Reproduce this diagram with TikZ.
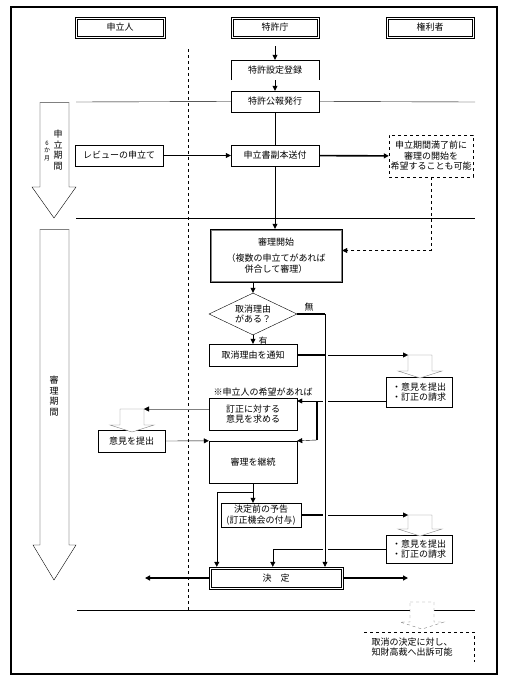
\documentclass[tikz,border=0pt]{standalone}
\usepackage{fontspec}
\setmainfont{Noto Sans CJK JP}
\usetikzlibrary{arrows.meta,shapes.geometric}
\tikzset{pics/downblk/.style={code={
	\draw[pic actions] (0,0) -- (24,0) -- (24,#1) -- (34,#1) -- (12,#1+7) -- (-10,#1) -- (0,#1) -- cycle;}}}
\begin{document}
\begin{tikzpicture}[x=1pt,y=-1pt,>={Triangle[length=5pt,width=5pt]},
	every node/.style={font=\fontsize{9}{10.5}\selectfont,inner sep=0pt,align=center},
	box/.style={draw,minimum width=88pt,minimum height=21pt},
	hopebox/.style={draw,dashed,minimum width=84pt,minimum height=42pt},
	thk/.style={line width=1.6pt},
	bridge/.style={preaction={draw=white,line width=5pt,-,shorten <=4pt,shorten >=4pt}}]
	\useasboundingbox (0,0) rectangle (508,691);
	\draw[line width=1.5pt] (11,7) rectangle (497,674);

	\node[box,minimum width=90pt] (appl) at (120,27.5) {申立人};
	\node[box] (jpo) at (275,27.5) {特許庁};
	\node[box] (owner) at (430,27.5) {権利者};

	\node[minimum width=88pt,minimum height=20pt] (reg) at (275,70) {特許設定登録};
	\draw (reg.south west) |- (reg.north east) -- (reg.south east);
	\node[box] (pub) at (275,101.5) {特許公報発行};
	\node[box] (rev) at (119,155.5) {レビューの申立て};
	\node[box] (send) at (275,155.5) {申立書副本送付};
	\node[hopebox] (hope) at (431,156) {申立期間満了前に\\審理の開始を\\希望することも可能};
	\node[box,minimum width=132pt,minimum height=53pt] (start) at (276,255.5)
		{審理開始\\[6pt]（複数の申立てがあれば\\併合して審理）};
	\node[draw,diamond,aspect=2.1,minimum width=88pt,minimum height=42pt] (reason) at (253,314) {取消理由\\がある？};
	\node (nolbl) at (309,307) {無};
	\node (yeslbl) at (263,341) {有};
	\node[box,minimum height=22pt] (notice) at (253,355) {取消理由を通知};
	\node[box,minimum width=66pt,minimum height=30pt] (resp1) at (419,392) {・意見を提出\\・訂正の請求};
	\node (wish) at (263,392) {※申立人の希望があれば};
	\node[box,minimum height=32pt] (ask) at (253,414) {訂正に対する\\意見を求める};
	\node[box,minimum width=67pt,minimum height=22pt] (op) at (131.5,441) {意見を提出};
	\node[box,minimum height=42pt] (cont) at (253,462) {審理を継続};
	\node[box,minimum width=80pt,minimum height=24pt] (pre) at (261,515) {決定前の予告\\(訂正機会の付与)};
	\node[box,minimum width=66pt,minimum height=28pt] (resp2) at (419,549) {・意見を提出\\・訂正の請求};
	\node[box,minimum width=134pt,minimum height=22pt] (kettei) at (276,578) {決\quad 定};
	\node (sue) at (412,647) {取消の決定に対し、\\知財高裁へ出訴可能};

	\foreach \n in {appl,jpo,owner,kettei}
		\draw ([shift={(2,2)}]\n.north west) rectangle ([shift={(-2,-2)}]\n.south east);
	\draw[gray] ([shift={(1.5,1.5)}]start.north west) rectangle ([shift={(-1.5,-1.5)}]start.south east);

	\coordinate (top) at (275,46);
	\coordinate (nob) at (325,314);
	\coordinate (inA) at (408,355);
	\coordinate (inB) at (120,409);
	\coordinate (tipB) at (144,409);
	\coordinate (inC) at (408,515);
	\coordinate (inD) at (410,602);
	\coordinate (j1) at (317,401);
	\coordinate (j2) at (317,440);
	\coordinate (br) at (253,492);
	\coordinate (leftend) at (145,578);
	\coordinate (rightend) at (408,578);

	\draw (40,102) -- (40,187) -- (32,187) -- (54,218) -- (76,187) -- (69,187) -- (69,102);
	\draw[gray] (40,102) -- (69,102);
	\node (span1) at (58,150) {申\\立\\期\\間};
	\node[font=\fontsize{6}{7.5}\selectfont] (span1s) at (47,151) {6\\か\\月};
	\draw (40,229) -- (40,545) -- (33,545) -- (54,580) -- (76,545) -- (69,545) -- (69,229);
	\draw[gray] (40,229) -- (69,229);
	\node (span2) at (54,396) {審\\理\\期\\間};

	\draw (76,102) -- (pub.west);
	\draw (pub.east) -- (475,102);
	\draw (76,218) -- (475,218);
	\draw (77,610) -- (475,610);
	\draw[dashed] (188,49) -- (188,610);

	\draw[->] (top) -- (reg.north);
	\draw[->] (reg.south) -- (pub.north);
	\draw (pub) -- (send);
	\draw[->] (rev) -- (send);
	\draw[->,thk] (send) -- (hope);
	\draw[->] (send.south) -- (send.south |- start.north);
	\draw[->,dashed] (hope.south) |- ([yshift=5pt]start.east);
	\draw[->] (reason.north |- start.south) -- (reason.north);
	\draw[->] (reason.south) -- (notice.north);
	\draw[thk] (reason.east) -- (nob);

	\draw[->] (notice.east) -- (inA);
	\pic[draw=gray,fill=white] at (inA) {downblk=16};
	\draw ([yshift=-9pt]resp1.west) -- (j1);
	\draw[thk] (j1) -- (j2);
	\draw[->] (j1) -- (j1 -| ask.east);
	\draw[->] (j2) -- (cont.north east);
	\pic[draw=gray,fill=white] at (inB) {downblk=16};
	\draw[gray,-{Triangle[length=5pt,width=5pt,color=black]}] ([yshift=5pt]ask.west) -- (tipB);
	\draw[->] (op.east) -- (cont.north west);
	\draw[->] (cont.south) -- (cont.south |- pre.north);
	\draw[->] (br) -| ([xshift=8pt]kettei.north west);
	\draw[->] (pre.east) -- (inC);
	\pic[draw=gray,fill=white] at (inC) {downblk=14};
	\draw[->] (resp2.west) -| ([xshift=64pt]kettei.north west);

	\draw[->,semithick,bridge] (nob) -- (nob |- kettei.north);
	\draw[thk] (notice.east) -- (325,355);
	\draw[thk] (pre.east) -- (322.5,515);

	\draw[->,thk] (kettei.west) -- (leftend);
	\draw[->,thk] (kettei.east) -- (rightend);
	\pic[draw=gray,fill=white,dashed] at (inD) {downblk=20};
	\draw[dashed] (364,632) -- (474,632) -- (474,662);
\end{tikzpicture}
\end{document}
